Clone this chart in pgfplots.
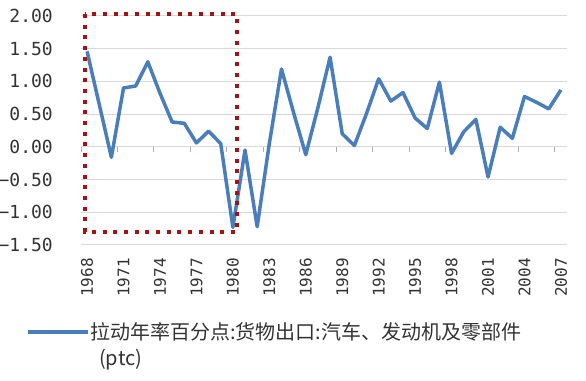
\documentclass[border=0pt]{standalone}
\usepackage{pgfplots}
\pgfplotsset{compat=1.18}
\usepackage{fontspec}
\setmainfont{DejaVu Sans Mono}
\newfontfamily\monof{DejaVu Sans Mono}
\newfontfamily\cjk{Noto Sans CJK SC}
\definecolor{lineblue}{HTML}{4A7EBB}
\definecolor{boxred}{HTML}{A01418}
\definecolor{gridgray}{HTML}{D9D9D9}
\begin{document}
\begin{tikzpicture}
\useasboundingbox (0pt,0pt) rectangle (586pt,380pt);
\begin{axis}[
  at={(81pt,135pt)}, anchor=south west,
  scale only axis, width=486pt, height=229pt,
  xmin=-0.5, xmax=39.5, ymin=-1.5, ymax=2.0,
  axis line style={draw=none},
  /pgf/number format/assume math mode=true,
  xtick={0,3,...,39},
  xticklabels={1968,1971,1974,1977,1980,1983,1986,1989,1992,1995,1998,2001,2004,2007},
  ytick={-1.5,-1,-0.5,0,0.5,1,1.5,2},
  yticklabels={−1.50,−1.00,−0.50,0.00,0.50,1.00,1.50,2.00},
  major tick length=0pt,
  ymajorgrids, grid style={gridgray, line width=1pt},
  yticklabel style={font=\monof\fontsize{18}{18}\selectfont, anchor=east, inner sep=0pt, xshift=-28pt, text=black!80},
  xticklabel style={font=\monof\fontsize{16}{16}\selectfont, rotate=90, anchor=east, inner sep=0pt, xshift=-13pt, text=black!80},
  clip=false,
]
\pgfplotsinvokeforeach{-0.5,2.5,5.5,8.5,11.5,14.5,17.5,20.5,23.5,26.5,29.5,32.5,35.5,38.5}{
  \draw[gridgray!80!black, line width=1pt] (axis cs:#1,0) -- ++(0pt,-5pt);
}
% x = year - 1968
\addplot[lineblue, line width=3.5pt, line join=round, no markers] coordinates {
(0,1.46) (1,0.65) (2,-0.16) (3,0.90) (4,0.93) (5,1.30)
(6,0.82) (7,0.38) (8,0.36) (9,0.06) (10,0.24) (11,0.05)
(12,-1.23) (13,-0.05) (14,-1.22) (15,0.05) (16,1.19) (17,0.52)
(18,-0.12) (19,0.60) (20,1.37) (21,0.20) (22,0.02) (23,0.51)
(24,1.04) (25,0.70) (26,0.83) (27,0.44) (28,0.28) (29,0.99)
(30,-0.10) (31,0.23) (32,0.42) (33,-0.46) (34,0.30) (35,0.13)
(36,0.77) (37,0.68) (38,0.58) (39,0.87)
};
\draw[boxred, line width=4pt, dash pattern=on 4pt off 6.7pt] (axis cs:-0.17,2.03) rectangle (axis cs:12.3,-1.30);
\end{axis}
\draw[lineblue, line width=4pt] (28pt,48pt) -- (88pt,48pt);
\node[anchor=west, inner sep=0pt, font=\cjk\fontsize{20}{20}\selectfont, text=black!80] at (90pt,48pt) {拉动年率百分点:货物出口:汽车、发动机及零部件};
\node[anchor=west, inner sep=0pt, font=\cjk\fontsize{20}{20}\selectfont, text=black!80] at (99pt,20pt) {(ptc)};
\end{tikzpicture}
\end{document}
